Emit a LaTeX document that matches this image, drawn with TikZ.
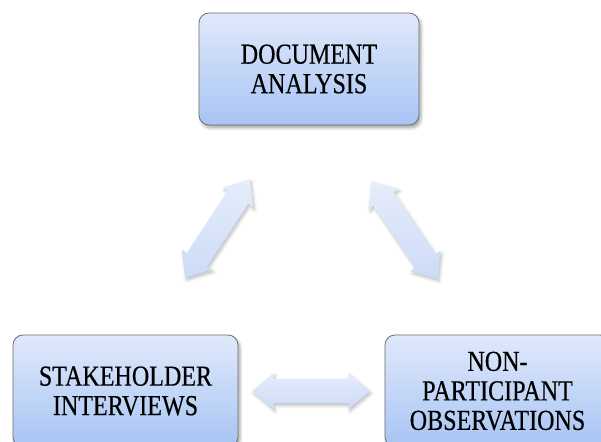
\documentclass[tikz,border=0pt]{standalone}
\usepackage{fontspec}
\setmainfont{Liberation Serif}[FakeStretch=0.83,FakeBold=0.4]
\usetikzlibrary{shapes.arrows,shadows.blur}

\definecolor{boxtop}{HTML}{E0E9FB}
\definecolor{boxbot}{HTML}{A8C4F4}
\definecolor{boxline}{HTML}{6E6E6E}
\definecolor{arrtop}{HTML}{E6EDFB}
\definecolor{arrbot}{HTML}{CCDBF7}

\tikzset{
  x=1pt, y=1pt,
  method/.style={
    draw=boxline, line width=0.8pt, rounded corners=10pt,
    top color=boxtop, bottom color=boxbot,
    minimum height=112pt, inner sep=0pt, align=center,
    font=\fontsize{29}{29.5}\selectfont,
    blur shadow={shadow xshift=2pt, shadow yshift=-3pt,
                 shadow blur radius=3pt, shadow opacity=35}
  },
  link/.style={
    double arrow, minimum height=118pt,
    text height=12pt, text depth=12pt, text width=0pt,
    double arrow head extend=6pt, double arrow tip angle=80,
    inner sep=0pt, draw=none,
    top color=arrtop, bottom color=arrbot,
    blur shadow={shadow xshift=1.5pt, shadow yshift=-2.5pt,
                 shadow blur radius=3pt, shadow opacity=25}
  }
}

\begin{document}
\begin{tikzpicture}
  \useasboundingbox (0,0) rectangle (601,441);

  % the three data sources
  \node[method, minimum width=220pt] (doc) at (309,372) {DOCUMENT\\ANALYSIS};
  \node[method, minimum width=225pt] (stake) at (125.5,50) {STAKEHOLDER\\INTERVIEWS};
  \node[method, minimum width=225pt] (obs) at (497.5,50) {NON-\\PARTICIPANT\\OBSERVATIONS};

  % end points of the two-way links
  \coordinate (l1) at (185,163);
  \coordinate (l2) at (250,262);
  \coordinate (r1) at (372,259);
  \coordinate (r2) at (437,163);
  \coordinate (h1) at (252,50);
  \coordinate (h2) at (370,50);

  % two-way block arrows between the sources
  \path (l1) -- (l2) node[midway, sloped, link] (linkL) {};
  \path (r1) -- (r2) node[midway, sloped, link] (linkR) {};
  \path (h1) -- (h2) node[midway, sloped, link] (linkH) {};
\end{tikzpicture}
\end{document}
